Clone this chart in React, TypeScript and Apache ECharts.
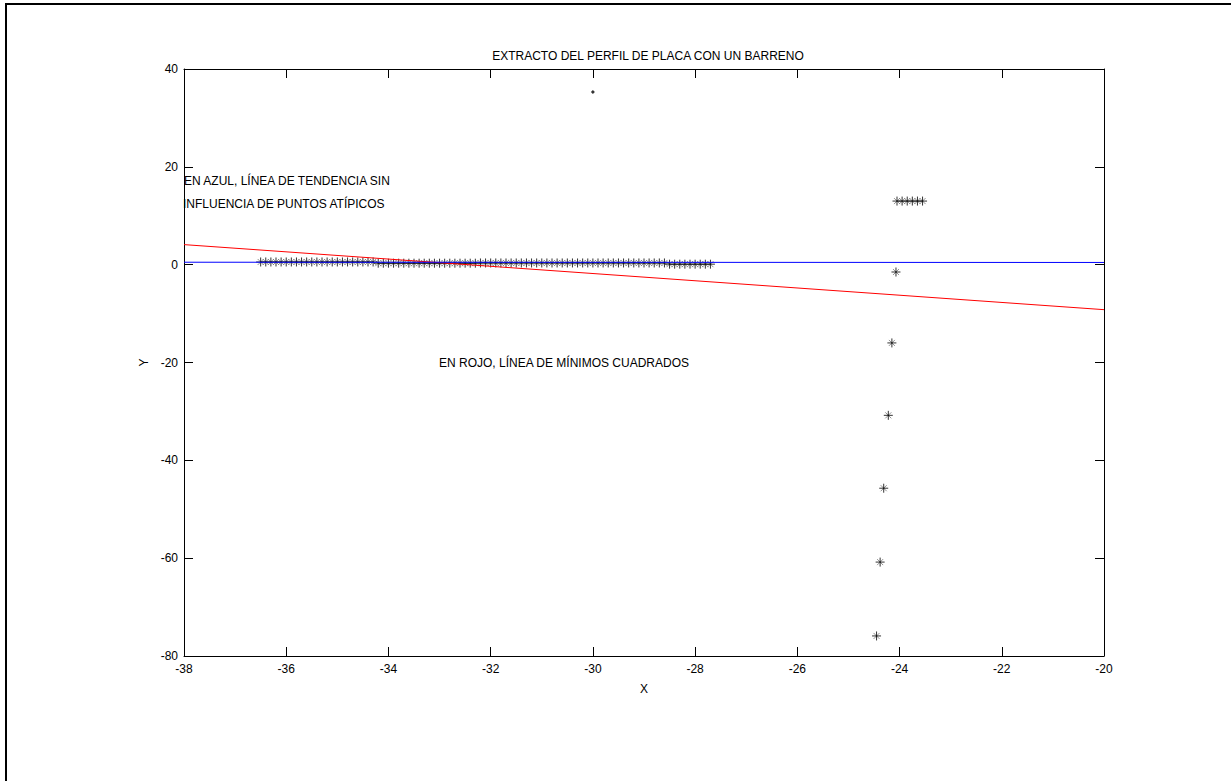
import React, { useEffect, useRef } from "react";
import * as echarts from "echarts";

const titleText = "EXTRACTO DEL PERFIL DE PLACA CON UN BARRENO";
const noteBlue1 = "EN AZUL, LÍNEA DE TENDENCIA SIN";
const noteBlue2 = "INFLUENCIA DE PUNTOS ATÍPICOS";
const noteRed = "EN ROJO, LÍNEA DE MÍNIMOS CUADRADOS";

const xTicks = { min: -38, max: -20, interval: 2 };
const yTicks = { min: -80, max: 40, interval: 20 };

// dense row of profile points
const rowX = [
  -36.5, -36.4, -36.3, -36.2, -36.1, -36.0, -35.9, -35.8, -35.7, -35.6,
  -35.5, -35.4, -35.3, -35.2, -35.1, -35.0, -34.9, -34.8, -34.7, -34.6,
  -34.5, -34.4, -34.3, -34.2, -34.1, -34.0, -33.9, -33.8, -33.7, -33.6,
  -33.5, -33.4, -33.3, -33.2, -33.1, -33.0, -32.9, -32.8, -32.7, -32.6,
  -32.5, -32.4, -32.3, -32.2, -32.1, -32.0, -31.9, -31.8, -31.7, -31.6,
  -31.5, -31.4, -31.3, -31.2, -31.1, -31.0, -30.9, -30.8, -30.7, -30.6,
  -30.5, -30.4, -30.3, -30.2, -30.1, -30.0, -29.9, -29.8, -29.7, -29.6,
  -29.5, -29.4, -29.3, -29.2, -29.1, -29.0, -28.9, -28.8, -28.7, -28.6,
  -28.5, -28.4, -28.3, -28.2, -28.1, -28.0, -27.9, -27.8, -27.7,
];
const rowY = [
  0.55, 0.55, 0.55, 0.55, 0.55, 0.55, 0.55, 0.55, 0.55, 0.55,
  0.55, 0.55, 0.55, 0.55, 0.55, 0.55, 0.55, 0.55, 0.55, 0.55,
  0.55, 0.55, 0.55, 0.3, 0.3, 0.3, 0.3, 0.3, 0.3, 0.3,
  0.3, 0.3, 0.3, 0.3, 0.3, 0.3, 0.3, 0.3, 0.3, 0.3,
  0.3, 0.3, 0.3, 0.35, 0.35, 0.35, 0.35, 0.35, 0.35, 0.35,
  0.35, 0.35, 0.35, 0.35, 0.35, 0.35, 0.35, 0.35, 0.35, 0.35,
  0.35, 0.35, 0.35, 0.35, 0.35, 0.35, 0.35, 0.35, 0.35, 0.35,
  0.35, 0.35, 0.35, 0.35, 0.35, 0.35, 0.35, 0.35, 0.35, 0.35,
  0.1, 0.1, 0.1, 0.1, 0.1, 0.1, 0.1, 0.1, 0.1,
];

// outliers near the hole
const clusterX = [-24.05, -23.95, -23.85, -23.75, -23.65, -23.55];
const clusterY = [13.0, 13.0, 13.0, 13.0, 13.0, 13.0];
const holeX = [-24.07, -24.15, -24.22, -24.31, -24.38, -24.45];
const holeY = [-1.5, -16.0, -30.8, -45.7, -60.8, -75.9];
const dotPoint = [-30.0, 35.3];

// trend lines (endpoints)
const redLine = [[-38, 4.1], [-20, -9.2]];
const blueLine = [[-38, 0.5], [-20, 0.45]];

const PLUS = "path://M5,0L5,10M0,5L10,5";
const CROSS = "path://M0,0L10,10M0,10L10,0";

export default function App() {
  const ref = useRef<HTMLDivElement>(null);
  useEffect(() => {
    if (!ref.current) return;
    const chart = echarts.init(ref.current, null, { renderer: "svg" });
    const font = "'Liberation Sans', Arial, sans-serif";
    const starPts = [
      ...rowX.map((x, i) => [x, rowY[i]]),
      ...clusterX.map((x, i) => [x, clusterY[i]]),
      ...holeX.map((x, i) => [x, holeY[i]]),
    ];
    const axisCommon = {
      axisLine: { show: true, onZero: false, lineStyle: { color: "#000", width: 1 } },
      axisTick: { show: true, inside: true, length: 9, lineStyle: { color: "#000" } },
      splitLine: { show: false },
    };
    chart.setOption({
      animation: false,
      backgroundColor: "#fff",
      textStyle: { fontFamily: font },
      title: {
        text: titleText,
        left: 643,
        top: 45,
        textAlign: "center",
        textStyle: { fontSize: 12, fontWeight: "normal", color: "#000", fontFamily: font },
      },
      grid: { left: 184, top: 69, right: 127, bottom: 125, containLabel: false },
      xAxis: [
        {
          type: "value",
          ...xTicks,
          ...axisCommon,
          name: "X",
          nameLocation: "middle",
          nameGap: 27,
          nameTextStyle: { fontSize: 12, color: "#000" },
          axisLabel: { fontSize: 12, color: "#000", margin: 7, showMinLabel: true, showMaxLabel: true },
        },
        {
          type: "value",
          position: "top",
          ...xTicks,
          ...axisCommon,
          axisLabel: { show: false },
        },
      ],
      yAxis: [
        {
          type: "value",
          ...yTicks,
          ...axisCommon,
          name: "Y",
          nameLocation: "middle",
          nameGap: 34,
          nameTextStyle: { fontSize: 12, color: "#000" },
          axisLabel: { fontSize: 12, color: "#000", margin: 6, showMinLabel: true, showMaxLabel: true },
        },
        {
          type: "value",
          position: "right",
          ...yTicks,
          ...axisCommon,
          axisLabel: { show: false },
        },
      ],
      series: [
        {
          type: "scatter",
          data: starPts,
          symbol: CROSS,
          symbolSize: 6,
          itemStyle: { color: "rgba(0,0,0,0)", borderColor: "#777", borderWidth: 1 },
          z: 2,
        },
        {
          type: "scatter",
          data: starPts,
          symbol: PLUS,
          symbolSize: 9,
          itemStyle: { color: "rgba(0,0,0,0)", borderColor: "#000", borderWidth: 1 },
          z: 2,
        },
        {
          type: "scatter",
          data: [dotPoint],
          symbol: "diamond",
          symbolSize: 4,
          itemStyle: { color: "#000" },
          z: 2,
        },
        {
          type: "line",
          data: redLine,
          symbol: "none",
          lineStyle: { color: "#ff0000", width: 1 },
          z: 3,
        },
        {
          type: "line",
          data: blueLine,
          symbol: "none",
          lineStyle: { color: "#0000ff", width: 1 },
          z: 4,
        },
      ],
      graphic: [
        { type: "line", shape: { x1: 5, y1: 4, x2: 1231, y2: 4 }, style: { stroke: "#000", lineWidth: 2 } },
        { type: "line", shape: { x1: 6, y1: 4, x2: 6, y2: 781 }, style: { stroke: "#000", lineWidth: 2 } },
        {
          type: "text", left: 184, top: 175,
          style: { text: noteBlue1, fontSize: 12, fill: "#000", fontFamily: font },
        },
        {
          type: "text", left: 183, top: 198,
          style: { text: noteBlue2, fontSize: 12, fill: "#000", fontFamily: font },
        },
        {
          type: "text", left: 439, top: 357,
          style: { text: noteRed, fontSize: 12, fill: "#000", fontFamily: font },
        },
      ],
    });
    return () => chart.dispose();
  }, []);
  return (
    <div
      ref={ref}
      style={{ position: "fixed", left: 0, top: 0, width: 1231, height: 781 }}
    />
  );
}
